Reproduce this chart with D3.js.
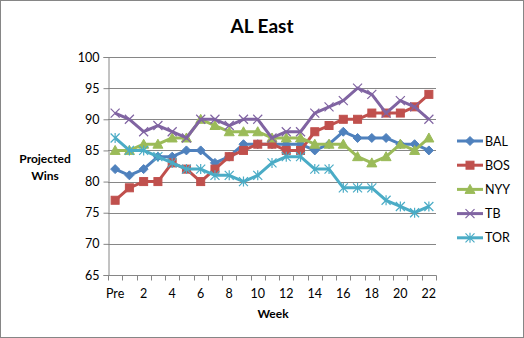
<!DOCTYPE html>
<html>
<head>
<meta charset="utf-8">
<script src="https://cdn.jsdelivr.net/npm/d3@7"></script>
<style>
  html, body { margin: 0; padding: 0; background: #fff; }
  svg { display: block; font-family: Lato, "Open Sans", sans-serif; }
</style>
</head>
<body>
<svg id="chart" width="524" height="338"></svg>
<script>
// Weekly projected win totals for the AL East
const weeks = ["Pre", "1", "2", "3", "4", "5", "6", "7", "8", "9", "10", "11",
               "12", "13", "14", "15", "16", "17", "18", "19", "20", "21", "22"];
const weekTickLabels = ["Pre", "2", "4", "6", "8", "10", "12", "14", "16", "18", "20", "22"];
const yTicks = [65, 70, 75, 80, 85, 90, 95, 100];

const teams = ["BAL", "BOS", "NYY", "TB", "TOR"];
const bal = [82, 81, 82, 84, 84, 85, 85, 83, 84, 86, 86, 86, 86, 86, 85, 86, 88, 87, 87, 87, 86, 86, 85];
const bos = [77, 79, 80, 80, 83, 82, 80, 82, 84, 85, 86, 86, 85, 85, 88, 89, 90, 90, 91, 91, 91, 92, 94];
const nyy = [85, 85, 86, 86, 87, 87, 90, 89, 88, 88, 88, 87, 87, 87, 86, 86, 86, 84, 83, 84, 86, 85, 87];
const tb  = [91, 90, 88, 89, 88, 87, 90, 90, 89, 90, 90, 87, 88, 88, 91, 92, 93, 95, 94, 91, 93, 92, 90];
const tor = [87, 85, 85, 84, 83, 82, 82, 81, 81, 80, 81, 83, 84, 84, 82, 82, 79, 79, 79, 77, 76, 75, 76];

const seriesValues = [bal, bos, nyy, tb, tor];
const colors = ["#4F81BD", "#C0504D", "#9BBB59", "#8064A2", "#4BACC6"];
const markers = ["diamond", "square", "triangle", "x", "star"];

const svg = d3.select("#chart");
const W = 524, H = 338;
const plot = { left: 108, right: 436, top: 57, bottom: 275 };

// chart frame
svg.append("rect").attr("x", 0.5).attr("y", 0.5).attr("width", W - 1).attr("height", H - 1)
  .attr("fill", "#fff").attr("stroke", "#868686");

const x = d3.scaleBand().domain(weeks).range([plot.left, plot.right]);
const y = d3.scaleLinear().domain([65, 100]).range([plot.bottom, plot.top]);
const cx = d => x(d) + x.bandwidth() / 2;

// horizontal gridlines
svg.append("g").selectAll("line").data(yTicks.filter(v => v > 65)).join("line")
  .attr("x1", plot.left).attr("x2", plot.right)
  .attr("y1", d => Math.round(y(d)) + 0.5).attr("y2", d => Math.round(y(d)) + 0.5)
  .attr("stroke", "#868686").attr("stroke-width", 1);

// y axis
const yAxis = svg.append("g").attr("transform", `translate(${plot.left + 0.5},0)`)
  .call(d3.axisLeft(y).tickValues(yTicks).tickSize(5).tickPadding(4));
yAxis.select(".domain").attr("stroke", "#868686");
yAxis.selectAll(".tick line").attr("stroke", "#868686");
yAxis.selectAll(".tick text").attr("font-size", 12.5).attr("fill", "#000")
  .attr("font-family", "Lato, 'Open Sans', sans-serif");

// x axis: ticks sit on the boundaries between weeks
const xg = svg.append("g").attr("transform", `translate(0,${Math.round(plot.bottom) + 0.5})`);
xg.append("line").attr("x1", plot.left).attr("x2", plot.right + 0.5)
  .attr("stroke", "#868686");
const bounds = weeks.map(w => x(w)).concat([plot.right]);
xg.selectAll("line.tk").data(bounds).join("line").attr("class", "tk")
  .attr("x1", d => Math.round(d) + 0.5).attr("x2", d => Math.round(d) + 0.5)
  .attr("y1", 0).attr("y2", 5).attr("stroke", "#868686");
xg.selectAll("text").data(weekTickLabels).join("text")
  .attr("x", d => cx(d)).attr("y", 22)
  .attr("text-anchor", "middle").attr("font-size", 12.5).attr("fill", "#000")
  .text(d => d);

// title and axis titles
svg.append("text").attr("x", 262).attr("y", 33).attr("text-anchor", "middle")
  .attr("font-size", 19).attr("font-weight", "bold").text("AL East");
svg.append("text").attr("x", 273).attr("y", 318).attr("text-anchor", "middle")
  .attr("font-size", 12).attr("font-weight", "bold").text("Week");
const yt = svg.append("text").attr("text-anchor", "middle")
  .attr("font-size", 12).attr("font-weight", "bold");
yt.append("tspan").attr("x", 45).attr("y", 163).text("Projected");
yt.append("tspan").attr("x", 45).attr("y", 180).text("Wins");

// marker shapes
function drawMarker(g, type, color, px, py, s) {
  if (type === "diamond") {
    g.append("path").attr("d", `M${px},${py - 4.5}L${px + 4.5},${py}L${px},${py + 4.5}L${px - 4.5},${py}Z`)
      .attr("fill", color).attr("stroke", color);
  } else if (type === "square") {
    g.append("rect").attr("x", px - 4).attr("y", py - 4).attr("width", 8).attr("height", 8)
      .attr("fill", color).attr("stroke", color);
  } else if (type === "triangle") {
    g.append("path").attr("d", `M${px},${py - 5}L${px + 5},${py + 4}L${px - 5},${py + 4}Z`)
      .attr("fill", color).attr("stroke", color);
  } else if (type === "x") {
    g.append("path").attr("d", `M${px - 4.5},${py - 4.5}L${px + 4.5},${py + 4.5}M${px - 4.5},${py + 4.5}L${px + 4.5},${py - 4.5}`)
      .attr("stroke", color).attr("stroke-width", 1.2).attr("fill", "none");
  } else {
    g.append("path").attr("d", `M${px - 4.5},${py - 4.5}L${px + 4.5},${py + 4.5}M${px - 4.5},${py + 4.5}L${px + 4.5},${py - 4.5}M${px},${py - 5}L${px},${py + 5}`)
      .attr("stroke", color).attr("stroke-width", 1.2).attr("fill", "none");
  }
}

const line = d3.line().x((d, i) => cx(weeks[i])).y(d => y(d));

teams.forEach((team, k) => {
  const g = svg.append("g");
  g.append("path").datum(seriesValues[k]).attr("d", line)
    .attr("fill", "none").attr("stroke", colors[k]).attr("stroke-width", 3)
    .attr("stroke-linejoin", "round");
  seriesValues[k].forEach((v, i) => drawMarker(g, markers[k], colors[k], cx(weeks[i]), y(v)));
});

// legend
const legend = svg.append("g");
teams.forEach((team, k) => {
  const ly = 141 + k * 24.2;
  legend.append("line").attr("x1", 457).attr("x2", 483).attr("y1", ly).attr("y2", ly)
    .attr("stroke", colors[k]).attr("stroke-width", 3);
  drawMarker(legend, markers[k], colors[k], 470, ly);
  legend.append("text").attr("x", 485).attr("y", ly + 4.5)
    .attr("font-size", 12.5).attr("fill", "#000").text(team);
});
</script>
</body>
</html>
